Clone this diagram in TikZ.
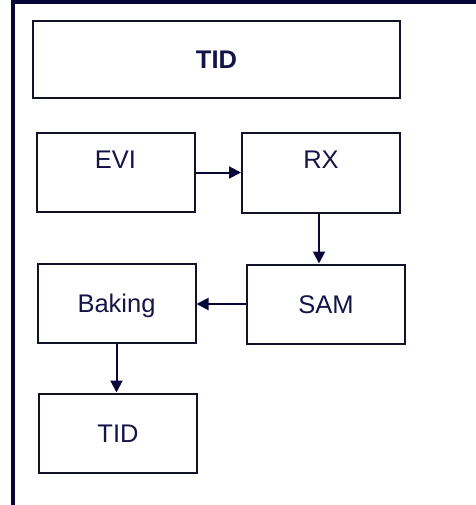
\documentclass[tikz,border=0pt]{standalone}
\usepackage{fontspec}
\setmainfont{Liberation Sans}
\usetikzlibrary{arrows.meta}
\definecolor{framecol}{RGB}{6,6,56}
\definecolor{edgecol}{RGB}{18,18,40}
\definecolor{inkcol}{RGB}{20,20,72}
\tikzset{
  stepbox/.style={draw=edgecol, line width=2pt, rectangle, inner sep=0pt,
    minimum width=158pt, minimum height=79pt, text=inkcol,
    font=\fontsize{25.5}{28}\selectfont, text height=18.5pt, text depth=0pt},
  topalign/.style={text depth=27pt},
  flow/.style={draw=framecol, line width=2pt,
    -{Triangle[length=12pt,width=12pt]}},
  framerule/.style={draw=framecol, line width=4pt}
}
\begin{document}
\begin{tikzpicture}[x=1pt,y=-1pt]
  \useasboundingbox (0,0) rectangle (475,505);
  % outer frame: top and left rules
  \coordinate (ftl) at (13,2.5);
  \coordinate (ftr) at (477,2.5);
  \coordinate (fbl) at (13,507);
  \draw[framerule] (ftr) -- (ftl) -- (13,0) (ftl) -- (fbl);
  % boxes
  \node[stepbox, minimum width=367pt, minimum height=77pt,
        font=\fontsize{25.5}{28}\selectfont\bfseries] (title) at (216.5,59.5) {TID};
  \node[stepbox, topalign] (evi) at (115.5,172.5) {EVI};
  \node[stepbox, topalign] (rx) at (321,173) {RX};
  \node[stepbox] (sam) at (326,304) {SAM};
  \node[stepbox] (bake) at (116.5,303) {Baking};
  \node[stepbox] (tid) at (118,433) {TID};
  % connectors
  \draw[flow] (evi.east) -- (evi.east -| rx.west);
  \draw[flow] ([xshift=-2pt]rx.south) -- ([xshift=-2pt]rx.south |- sam.north);
  \draw[flow] (sam.west) -- (sam.west -| bake.east);
  \draw[flow] (bake.south) -- (bake.south |- tid.north);
\end{tikzpicture}
\end{document}
